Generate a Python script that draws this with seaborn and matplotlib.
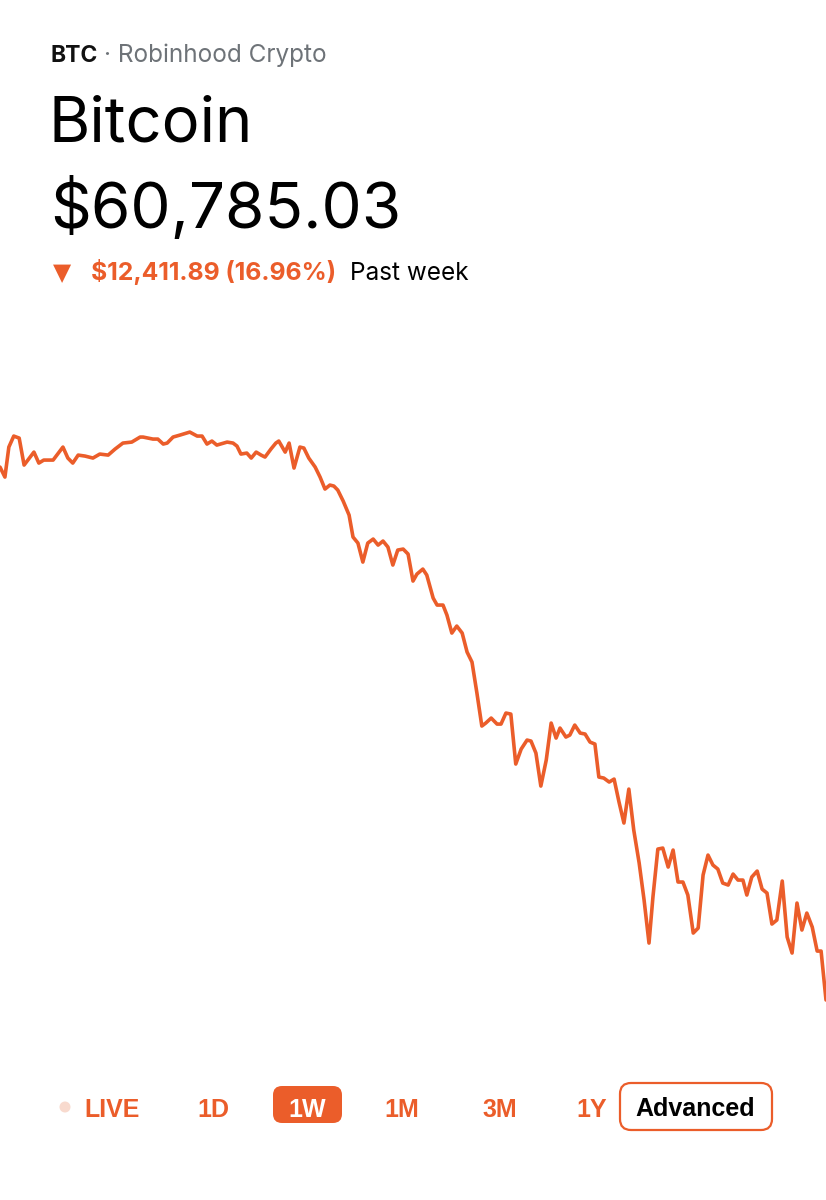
import matplotlib
matplotlib.use("Agg")
import pandas as pd
import seaborn as sns
from matplotlib import pyplot as plt
from matplotlib.patches import FancyBboxPatch, Circle

# hours since start of the week window, and BTC price (USD)
hours = [
    0.0, 1.0, 1.8, 2.8, 3.9, 4.9, 6.9, 7.9, 8.9, 10.8, 12.8, 13.8, 14.8, 15.9,
    17.3, 18.9, 20.3, 22.0, 23.4, 25.0, 26.8, 28.5, 29.1, 31.1, 32.1, 33.2,
    34.0, 35.2, 36.6, 38.6, 40.1, 41.1, 42.1, 43.1, 44.1, 46.2, 47.4, 48.2,
    49.0, 50.2, 51.1, 52.1, 53.1, 53.9, 55.1, 56.1, 56.7, 58.0, 58.8, 59.8,
    61.0, 61.8, 62.8, 64.1, 65.1, 66.1, 67.1, 67.9, 68.7, 69.8, 71.0, 71.8,
    72.8, 73.8, 74.8, 75.9, 76.9, 77.9, 78.9, 79.9, 80.9, 82.0, 83.0, 84.0,
    84.8, 86.0, 86.8, 88.1, 88.9, 90.1, 90.9, 91.9, 92.9, 94.0, 95.0, 96.0,
    97.0, 98.0, 98.8, 99.9, 101.1, 101.9, 102.9, 103.9, 104.9, 106.0, 107.2,
    108.0, 109.0, 110.0, 111.1, 112.1, 113.1, 113.9, 115.1, 115.9, 116.9,
    118.0, 119.0, 120.0, 121.0, 121.8, 122.8, 123.9, 124.9, 125.9, 126.9,
    127.9, 128.9, 130.0, 131.0, 132.0, 132.8, 133.8, 134.8, 135.9, 136.9,
    137.9, 138.9, 139.9, 141.0, 142.0, 143.0, 144.0, 145.0, 146.0, 147.0,
    148.1, 149.1, 150.1, 151.1, 151.9, 152.9, 154.0, 155.0, 156.0, 157.0,
    158.0, 159.1, 160.1, 161.1, 162.1, 163.1, 164.1, 165.2, 166.2, 167.0,
    168.0,
]
prices = [
    73197, 72964, 73663, 73919, 73872, 73244, 73546, 73290, 73360, 73360,
    73663, 73407, 73290, 73476, 73453, 73407, 73500, 73476, 73616, 73756,
    73779, 73896, 73896, 73849, 73849, 73733, 73756, 73896, 73942, 74012,
    73919, 73919, 73733, 73803, 73709, 73779, 73756, 73686, 73500, 73523,
    73407, 73546, 73476, 73430, 73616, 73756, 73803, 73546, 73756, 73174,
    73663, 73640, 73407, 73197, 72964, 72685, 72778, 72755, 72661, 72405,
    72079, 71567, 71427, 70984, 71427, 71520, 71380, 71474, 71334, 70915,
    71264, 71287, 71171, 70542, 70705, 70821, 70682, 70146, 69983, 69983,
    69750, 69331, 69494, 69331, 68888, 68655, 67933, 67165, 67235, 67351,
    67211, 67211, 67468, 67444, 66280, 66629, 66839, 66815, 66536, 65767,
    66373, 67235, 66885, 67118, 66909, 66955, 67188, 67002, 66979, 66792,
    66746, 65977, 65954, 65861, 65930, 65395, 64906, 65697, 64742, 63974,
    63112, 62111, 63182, 64300, 64323, 63881, 64277, 63532, 63532, 63229,
    62344, 62460, 63695, 64160, 63928, 63834, 63508, 63462, 63718, 63578,
    63578, 63229, 63648, 63788, 63368, 63275, 62553, 62647, 63555, 62251,
    61878, 63043, 62414, 62809, 62483, 61924, 61924, 60785,
]

symbol = "BTC"
exchange = "· Robinhood Crypto"
name = "Bitcoin"
price_text = "$60,785.03"
change_text = "$12,411.89 (16.96%)"
period_text = "Past week"
ranges = ["LIVE", "1D", "1W", "1M", "3M", "1Y"]
range_x = [112, 213, 307, 402, 500, 592]

ORANGE = "#EB5D2A"
GRAY = "#6E7378"
HEAD = ["Inter", "DejaVu Sans"]


def main():
    sns.set_style("white")
    plt.rcParams["font.family"] = ["Liberation Sans", "DejaVu Sans"]

    df = pd.DataFrame({"hour": hours, "price": prices})

    fig = plt.figure(figsize=(8.26, 12), dpi=100)
    fig.patch.set_facecolor("white")

    # price line
    ax = fig.add_axes([0, 1 - 1050 / 1200, 1, 670 / 1200])
    sns.lineplot(data=df, x="hour", y="price", color=ORANGE, linewidth=2.6, ax=ax)
    ax.set_xlim(0, 168)
    ax.set_ylim(59620, 75225)
    ax.axis("off")

    # overlay in pixel coordinates for header and buttons
    ov = fig.add_axes([0, 0, 1, 1])
    ov.set_xlim(0, 826)
    ov.set_ylim(1200, 0)
    ov.axis("off")

    ov.text(50, 62, symbol, fontsize=16.5, fontweight="bold", color="#111111",
            va="baseline", family=HEAD)
    ov.text(104, 62, exchange, fontsize=17.5, color=GRAY, va="baseline", family=HEAD)
    ov.text(49, 142, name, fontsize=45.5, color="black", va="baseline", family=HEAD)
    ov.text(50, 228, price_text, fontsize=46, color="black", va="baseline", family=HEAD)
    ov.text(53, 280, "▼", fontsize=17, color=ORANGE, va="baseline",
            family=["DejaVu Sans"])
    ov.text(91, 280, change_text, fontsize=17.8, fontweight="bold", color=ORANGE,
            va="baseline", family=HEAD)
    ov.text(350, 280, period_text, fontsize=17.5, color="black", va="baseline",
            family=HEAD)

    # range selector
    ov.add_patch(Circle((65, 1107), 5.5, color="#F8DACE", lw=0))
    ov.add_patch(FancyBboxPatch((273, 1086), 69, 37,
                                boxstyle="round,pad=0,rounding_size=9",
                                fc=ORANGE, ec="none"))
    ov.add_patch(FancyBboxPatch((620, 1083), 152, 47,
                                boxstyle="round,pad=0,rounding_size=11",
                                fc="white", ec=ORANGE, lw=1.6))
    for label, x in zip(ranges, range_x):
        col = "white" if label == "1W" else ORANGE
        ov.text(x, 1117, label, fontsize=18, fontweight="bold", color=col,
                ha="center", va="baseline")
    ov.text(695, 1116, "Advanced", fontsize=18, fontweight="bold", color="black",
            ha="center", va="baseline")

    plt.savefig("out.png", dpi=100)


if __name__ == "__main__":
    main()
